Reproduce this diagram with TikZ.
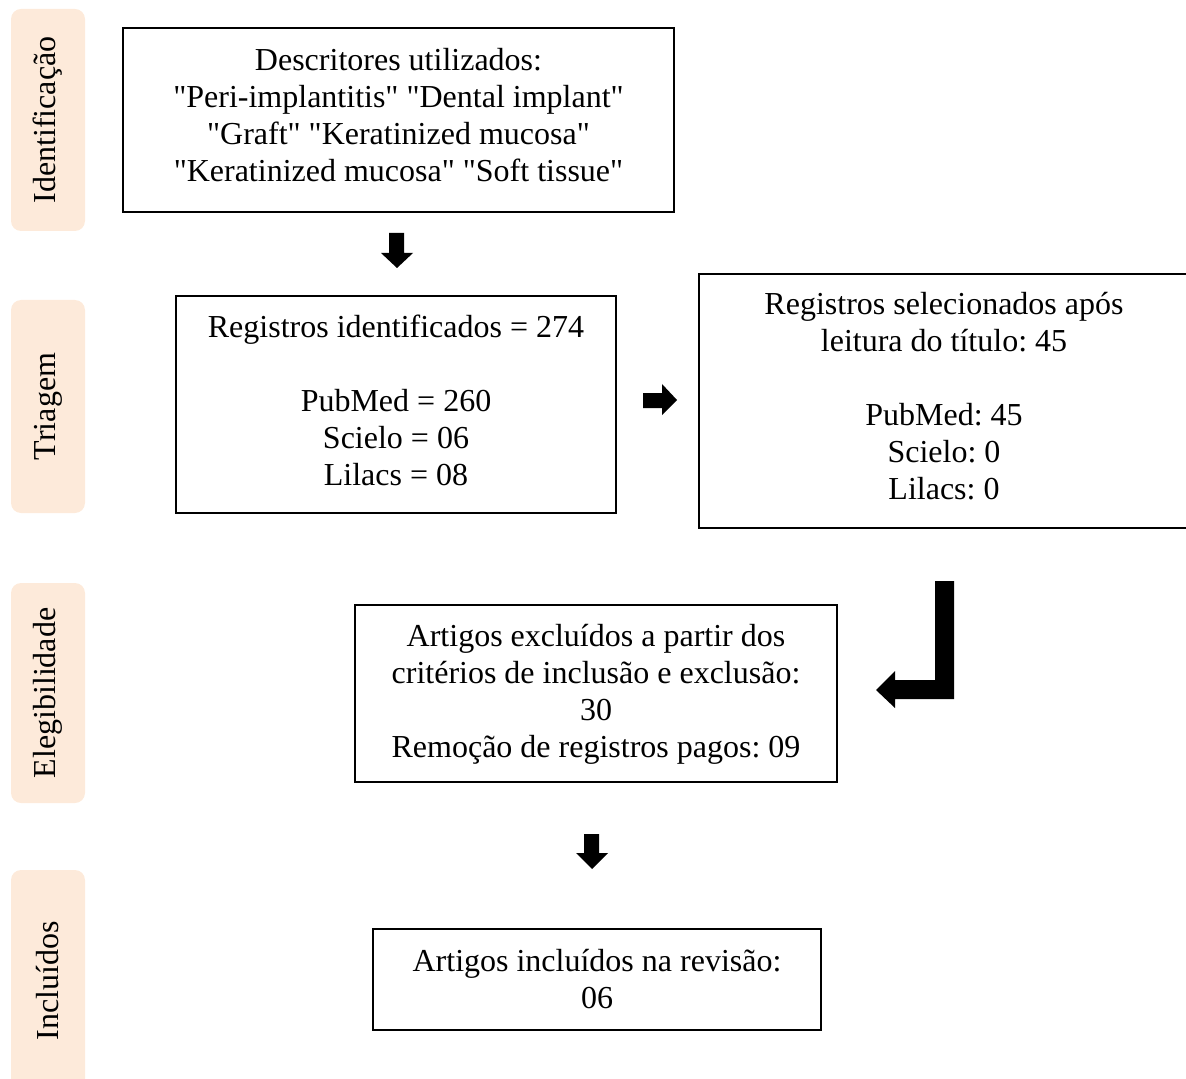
\documentclass[tikz,border=0pt]{standalone}
\usepackage{fontspec}
\setmainfont{Liberation Serif}
\definecolor{peach}{HTML}{FDEADA}
\frenchspacing
\begin{document}
\begin{tikzpicture}[x=0.5pt,y=-0.5pt,
  box/.style={draw,line width=1pt,inner sep=0pt},
  txt/.style={inner sep=0pt,align=center,font=\fontsize{16}{18.5}\selectfont},
  side/.style={fill=peach,rounded corners=5pt,rotate=90,inner sep=0pt,minimum height=37pt,font=\fontsize{16}{18.5}\selectfont},
  blk/.style={fill=black}]
\useasboundingbox (0,0) rectangle (1186,1079);
\clip (0,0) rectangle (1186,1079);
\def\q{\textquotedbl}
% side labels
\node[side,minimum width=111pt] (s1) at (48,120) {Identificação};
\node[side,minimum width=106.5pt] (s2) at (48,406.5) {Triagem};
\node[side,minimum width=110pt] (s3) at (48,693) {Elegibilidade};
\node[side,minimum width=110pt] (s4) at (48,980) {};
\node[rotate=90,font=\fontsize{16}{18.5}\selectfont] (s4t) at (48,981) {Incluídos};
% boxes
\node[box,minimum width=275.5pt,minimum height=92pt] (b1) at (398.5,120) {};
\node[txt] (t1) at ([yshift=2.5pt]b1.center)
  {Descritores utilizados:\\\q Peri-implantitis\q{} \q Dental implant\q\\\q Graft\q{} \q Keratinized mucosa\q\\\q Keratinized mucosa\q{} \q Soft tissue\q};
\node[box,minimum width=220pt,minimum height=108.5pt] (b2) at (396,404.5) {};
\node[txt] (t2) at ([yshift=2pt]b2.center)
  {Registros identificados = 274\\[18.5pt]PubMed = 260\\Scielo = 06\\Lilacs = 08};
\node[box,minimum width=245pt,minimum height=127pt] (b3) at (944,401) {};
\node[txt] (t3) at ([yshift=2.5pt]b3.center)
  {Registros selecionados após\\leitura do título: 45\\[18.5pt]PubMed: 45\\Scielo: 0\\Lilacs: 0};
\node[box,minimum width=241pt,minimum height=88.5pt] (b4) at (596,693.5) {};
\node[txt] (t4) at ([yshift=-0.5pt]b4.center)
  {Artigos excluídos a partir dos\\critérios de inclusão e exclusão:\\30\\Remoção de registros pagos: 09};
\node[box,minimum width=224pt,minimum height=50.5pt] (b5) at (597,979.5) {};
\node[txt] (t5) at (b5.center)
  {Artigos incluídos na revisão:\\06};
% block arrows
\fill[blk] (389,233)--(404,233)--(404,253)--(413,253)--(397,268)--(381,253)--(389,253)--cycle;
\fill[blk] (643,393)--(662,393)--(662,384)--(677,400)--(662,415)--(662,408)--(643,408)--cycle;
\fill[blk] (935,581)--(954,581)--(954,699)--(895,699)--(895,708)--(876,690)--(895,671)--(895,680)--(935,680)--cycle;
\fill[blk] (584,834)--(599,834)--(599,853)--(608,853)--(592,869)--(576,853)--(584,853)--cycle;
\end{tikzpicture}
\end{document}
